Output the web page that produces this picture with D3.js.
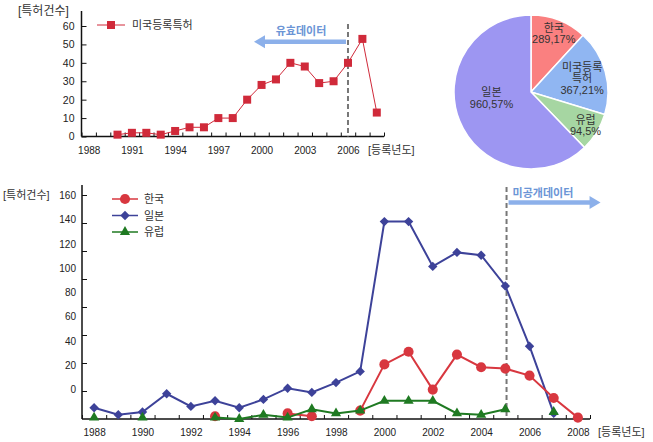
<!DOCTYPE html>
<html><head><meta charset="utf-8">
<script src="https://cdn.jsdelivr.net/npm/d3@7"></script>
<style>
body{margin:0;background:#fff}
text{font-family:"Liberation Sans",Arial,"Noto Sans CJK KR",sans-serif}
</style>
</head><body>
<svg id="c" width="653" height="442"></svg>
<script>
// ---------- data ----------
const years = [1988,1989,1990,1991,1992,1993,1994,1995,1996,1997,1998,1999,2000,2001,2002,2003,2004,2005,2006,2007,2008];
const usRegistered = [null,null,1,2,2,1,3,5,5,10,10,20,28,31,40,38,29,30,40,53,13];
const korea  = [null,null,null,null,null,2,null,null,4,2,null,6,39,48,21,46,37,36,31,15,1];
const japan  = [8,3,5,18,9,13,8,14,22,19,26,34,141,141,109,119,117,95,52,4,null];
const europe = [1,null,1,null,null,1,0,3,1,7,4,6,13,13,13,4,3,7,null,5,null];

const topYTicks = [0,10,20,30,40,50,60];
const topXLabels = [1988,1991,1994,1997,2000,2003,2006];
const bottomYTicks = [20,40,60,80,100,120,140,160];
const bottomYLabels = [0,20,40,60,80,100,120,140,160];
const bottomXLabels = [1988,1990,1992,1994,1996,1998,2000,2002,2004,2006,2008];

const pieNames = [["한국"],["미국등록","특허"],["유럽"],["일본"]];
const pieCounts = [289,367,94,960];
const piePercents = [17,21,5,57];
const pieSliceShares = [11.8,17.9,8.1,62.2];

const validCutoffYear = 2006;
const undisclosedCutoffYear = 2005.05;

// ---------- styles ----------
const pieColors = ["#fa8080","#90b6f2","#a6d6a2","#9d96f2"];
const usColor = "#d02a3a";
const koreaColor = "#d8373f", japanColor = "#3d4299", europeColor = "#1f7a22";
const arrowColor = "#8cb0ea", arrowText = "#6b95d6";
const axisColor = "#111", labelColor = "#222";

const svg = d3.select("#c");
const halfYears = d3.range(1987.5, 2009, 1);

// ================= TOP-LEFT CHART =================
const xT = d3.scaleLinear().domain([1987.5, 2008.5]).range([81.5, 384]);
const yT = d3.scaleLinear().domain([0, 60]).range([136.5, 26]);
const gT = svg.append("g");

gT.append("g").attr("transform", `translate(${xT(1987.5)},0)`)
  .call(d3.axisLeft(yT).tickValues(topYTicks).tickSize(-5).tickPadding(7).tickFormat(d3.format("d")))
  .call(g => { g.select(".domain").remove();
    g.selectAll("line").attr("stroke", axisColor);
    g.selectAll("text").attr("font-size", 10.5).attr("fill", labelColor); });
gT.append("g").attr("transform", `translate(0,${yT(0)})`)
  .call(d3.axisBottom(xT).tickValues(halfYears).tickSize(-4).tickFormat(""))
  .call(g => { g.select(".domain").remove(); g.selectAll("line").attr("stroke", axisColor); });
gT.append("g").attr("transform", `translate(0,${yT(0)})`)
  .call(d3.axisBottom(xT).tickValues(topXLabels).tickSize(0).tickPadding(10).tickFormat(d3.format("d")))
  .call(g => { g.select(".domain").remove();
    g.selectAll("text").attr("font-size", 10).attr("fill", labelColor); });
gT.append("line").attr("x1", xT(1987.5)).attr("x2", xT(1987.5)).attr("y1", 11).attr("y2", yT(0))
  .attr("stroke", axisColor).attr("stroke-width", 1.5);
gT.append("line").attr("x1", xT(1987.5)).attr("x2", xT(2008.5)).attr("y1", yT(0)).attr("y2", yT(0))
  .attr("stroke", axisColor).attr("stroke-width", 1.5);

gT.append("line").attr("x1", xT(validCutoffYear)).attr("x2", xT(validCutoffYear))
  .attr("y1", 24).attr("y2", yT(0)).attr("stroke", "#777").attr("stroke-width", 2).attr("stroke-dasharray", "5,3");
{
  const x0 = xT(validCutoffYear) - 2, tip = x0 - 92, ay = 41.7;
  gT.append("line").attr("x1", x0).attr("x2", tip + 8).attr("y1", ay).attr("y2", ay)
    .attr("stroke", arrowColor).attr("stroke-width", 4.5);
  gT.append("path").attr("d", `M${tip},${ay} L${tip + 11},${ay - 6.5} L${tip + 11},${ay + 6.5} Z`).attr("fill", arrowColor);
  gT.append("text").attr("x", 301).attr("y", 35).attr("text-anchor", "middle")
    .attr("font-size", 11).attr("font-weight", "bold").attr("fill", arrowText).text("유효데이터");
}

const topData = years.map((y, i) => ({ x: y, v: usRegistered[i] }));
gT.append("path").datum(topData)
  .attr("d", d3.line().defined(d => d.v != null).x(d => xT(d.x)).y(d => yT(d.v)))
  .attr("fill", "none").attr("stroke", usColor).attr("stroke-width", 1);
gT.selectAll("rect.m").data(topData.filter(d => d.v != null)).join("rect").attr("class", "m")
  .attr("x", d => xT(d.x) - 4).attr("y", d => yT(d.v) - 4).attr("width", 8).attr("height", 8)
  .attr("fill", usColor);

gT.append("line").attr("x1", 97).attr("x2", 125).attr("y1", 25).attr("y2", 25).attr("stroke", usColor).attr("stroke-width", 1);
gT.append("rect").attr("x", 107).attr("y", 21).attr("width", 8).attr("height", 8).attr("fill", usColor);
gT.append("text").attr("x", 132).attr("y", 29).attr("font-size", 11).attr("fill", "#333").text("미국등록특허");
gT.append("text").attr("x", 18).attr("y", 15).attr("font-size", 12).attr("fill", "#333").text("[특허건수]");
gT.append("text").attr("x", 368).attr("y", 154).attr("font-size", 11).attr("fill", "#333").text("[등록년도]");

// ================= PIE =================
const pieG = svg.append("g").attr("transform", "translate(531,92)");
const pie = d3.pie().sort(null).value(d => d)(pieSliceShares);
const arc = d3.arc().innerRadius(0).outerRadius(77);
pieG.selectAll("path").data(pie).join("path")
  .attr("d", arc).attr("fill", (d, i) => pieColors[i]).attr("stroke", "#fff").attr("stroke-width", 1.5);
const labelR = [63, 53, 64, 40];
pie.forEach((d, i) => {
  let a = (d.startAngle + d.endAngle) / 2;
  if (i === 3) a = a + 0.23;
  const cx = Math.sin(a) * labelR[i], cy = -Math.cos(a) * labelR[i];
  const lines = pieNames[i].concat([`${pieCounts[i]},${piePercents[i]}%`]);
  const lh = 11.5;
  const t = pieG.append("text").attr("text-anchor", "middle").attr("font-size", 11).attr("fill", "#333");
  lines.forEach((s, k) => {
    t.append("tspan").attr("x", cx).attr("y", cy + (k - (lines.length - 1) / 2) * lh + 4).text(s);
  });
});

// ================= BOTTOM CHART =================
const xB = d3.scaleLinear().domain([1987.5, 2008.5]).range([82, 590]);
const yB = d3.scaleLinear().domain([0, 160]).range([419, 195]);
const yLab = d3.scaleLinear().domain([0, 160]).range([389.5, 195.5]);
const gB = svg.append("g");

gB.append("g").attr("transform", `translate(${xB(1987.5)},0)`)
  .call(d3.axisLeft(yB).tickValues(bottomYTicks).tickSize(-5).tickFormat(""))
  .call(g => { g.select(".domain").remove(); g.selectAll("line").attr("stroke", axisColor); });
gB.append("g").attr("transform", `translate(${xB(1987.5)},0)`)
  .call(d3.axisLeft(yLab).tickValues(bottomYLabels).tickSize(0).tickPadding(6).tickFormat(d3.format("d")))
  .call(g => { g.select(".domain").remove();
    g.selectAll("text").attr("font-size", 10).attr("fill", labelColor); });
gB.append("g").attr("transform", `translate(0,${yB(0)})`)
  .call(d3.axisBottom(xB).tickValues(halfYears).tickSize(-4).tickFormat(""))
  .call(g => { g.select(".domain").remove(); g.selectAll("line").attr("stroke", axisColor); });
gB.append("g").attr("transform", `translate(0,${yB(0)})`)
  .call(d3.axisBottom(xB).tickValues(bottomXLabels).tickSize(0).tickPadding(10).tickFormat(d3.format("d")))
  .call(g => { g.select(".domain").remove();
    g.selectAll("text").attr("font-size", 10).attr("fill", labelColor); });
gB.append("line").attr("x1", xB(1987.5)).attr("x2", xB(1987.5)).attr("y1", 185).attr("y2", yB(0))
  .attr("stroke", axisColor).attr("stroke-width", 1.5);
gB.append("line").attr("x1", xB(1987.5)).attr("x2", xB(2008.5)).attr("y1", yB(0)).attr("y2", yB(0))
  .attr("stroke", axisColor).attr("stroke-width", 1.5);

{
  const cx = xB(undisclosedCutoffYear);
  gB.append("line").attr("x1", cx).attr("x2", cx).attr("y1", 187).attr("y2", yB(0))
    .attr("stroke", "#777").attr("stroke-width", 2).attr("stroke-dasharray", "5,3");
  const ay = 202.5, x0 = cx + 2, tip = cx + 94;
  gB.append("line").attr("x1", x0).attr("x2", tip - 8).attr("y1", ay).attr("y2", ay)
    .attr("stroke", arrowColor).attr("stroke-width", 4.5);
  gB.append("path").attr("d", `M${tip},${ay} L${tip - 11},${ay - 6.5} L${tip - 11},${ay + 6.5} Z`).attr("fill", arrowColor);
  gB.append("text").attr("x", cx + 6).attr("y", 197).attr("font-size", 11).attr("font-weight", "bold")
    .attr("fill", arrowText).text("미공개데이터");
}

const series = [
  { name: "일본", vals: japan, color: japanColor, shape: d3.symbolSquare, size: 44, rot: 45 },
  { name: "한국", vals: korea, color: koreaColor, shape: d3.symbolCircle, size: 80, rot: 0 },
  { name: "유럽", vals: europe, color: europeColor, shape: d3.symbolTriangle, size: 45, rot: 0 }
];
series.forEach(s => {
  const data = years.map((y, i) => ({ x: y, v: s.vals[i] }));
  gB.append("path").datum(data)
    .attr("d", d3.line().defined(d => d.v != null).x(d => xB(d.x)).y(d => yB(d.v)))
    .attr("fill", "none").attr("stroke", s.color).attr("stroke-width", 2);
  gB.selectAll(null).data(data.filter(d => d.v != null)).join("path")
    .attr("d", d3.symbol().type(s.shape).size(s.size))
    .attr("transform", d => `translate(${xB(d.x)},${yB(d.v)}) rotate(${s.rot})`)
    .attr("fill", s.color);
});

const legendItems = [series[1], series[0], series[2]];
legendItems.forEach((s, i) => {
  const ly = 199 + i * 16.5;
  gB.append("line").attr("x1", 112).attr("x2", 138).attr("y1", ly).attr("y2", ly).attr("stroke", s.color).attr("stroke-width", 1.5);
  gB.append("path").attr("d", d3.symbol().type(s.shape).size(s.size))
    .attr("transform", `translate(125,${ly}) rotate(${s.rot})`).attr("fill", s.color);
  gB.append("text").attr("x", 144).attr("y", ly + 4).attr("font-size", 11).attr("fill", "#333").text(s.name);
});
gB.append("text").attr("x", 3).attr("y", 199).attr("font-size", 11).attr("fill", "#333").text("[특허건수]");
gB.append("text").attr("x", 598).attr("y", 436).attr("font-size", 11).attr("fill", "#333").text("[등록년도]");
</script>
</body></html>
